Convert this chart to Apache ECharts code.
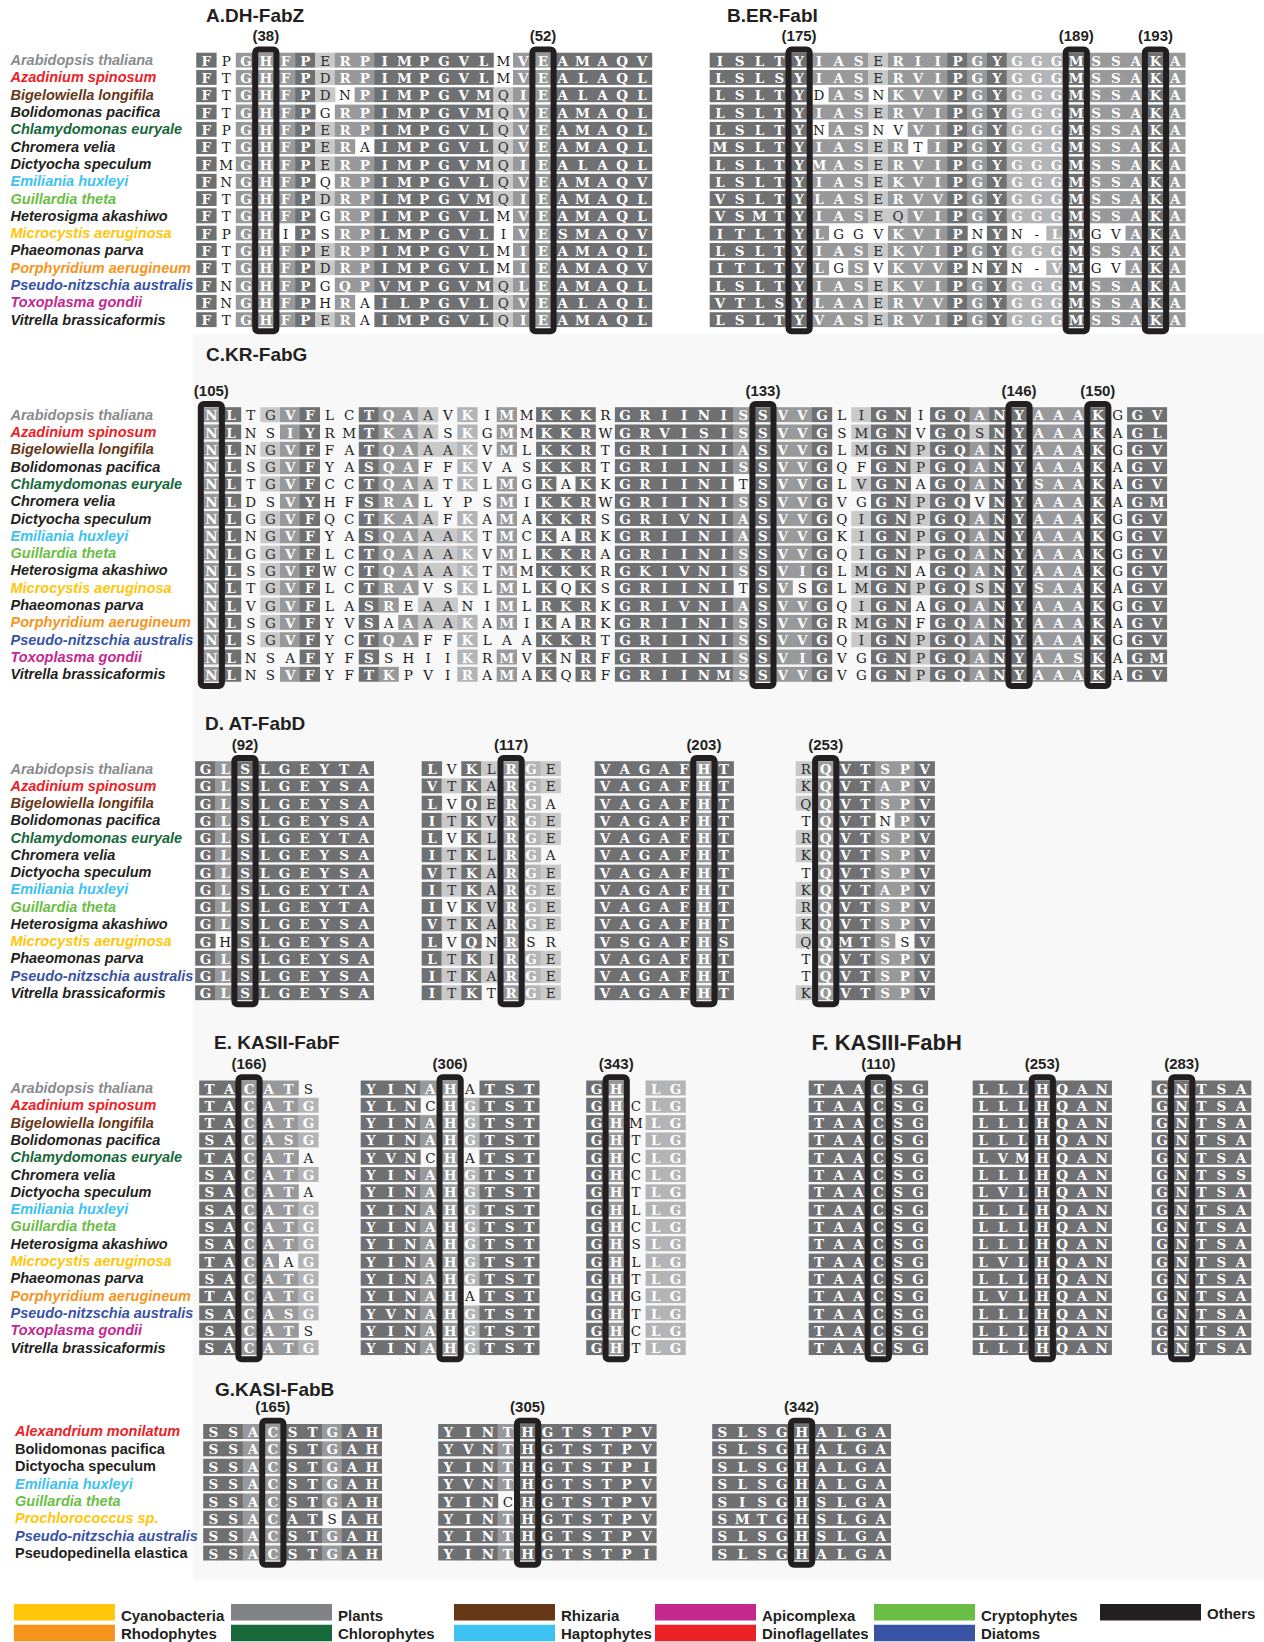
<!DOCTYPE html>
<html>
<head>
<meta charset="utf-8">
<title>Conserved active sites of FAS II enzymes</title>
<script src="https://cdn.jsdelivr.net/npm/echarts@6/dist/echarts.min.js"></script>
<style>
  html, body { margin: 0; padding: 0; background: #ffffff; }
  #chart { width: 1264px; height: 1642px; }
</style>
</head>
<body>
<div id="chart"></div>
<script>
// ---------- taxonomy ----------
const taxonColors = {
  Cyanobacteria: '#FFC60B', Rhodophytes: '#F7941D', Plants: '#808285', Chlorophytes: '#17693A',
  Rhizaria: '#663818', Haptophytes: '#3DC2F1', Apicomplexa: '#C4288F', Dinoflagellates: '#EC2227',
  Cryptophytes: '#6BBE45', Diatoms: '#3853A4', Others: '#231F20'
};
const legendRow1 = ['Cyanobacteria', 'Plants', 'Rhizaria', 'Apicomplexa', 'Cryptophytes', 'Others'];
const legendRow2 = ['Rhodophytes', 'Chlorophytes', 'Haptophytes', 'Dinoflagellates', 'Diatoms'];

const speciesTaxon = {
  'Arabidopsis thaliana': 'Plants', 'Azadinium spinosum': 'Dinoflagellates',
  'Bigelowiella longifila': 'Rhizaria', 'Bolidomonas pacifica': 'Others',
  'Chlamydomonas euryale': 'Chlorophytes', 'Chromera velia': 'Others',
  'Dictyocha speculum': 'Others', 'Emiliania huxleyi': 'Haptophytes',
  'Guillardia theta': 'Cryptophytes', 'Heterosigma akashiwo': 'Others',
  'Microcystis aeruginosa': 'Cyanobacteria', 'Phaeomonas parva': 'Others',
  'Porphyridium aerugineum': 'Rhodophytes', 'Pseudo-nitzschia australis': 'Diatoms',
  'Toxoplasma gondii': 'Apicomplexa', 'Vitrella brassicaformis': 'Others',
  'Alexandrium monilatum': 'Dinoflagellates', 'Prochlorococcus sp.': 'Cyanobacteria',
  'Pseudopedinella elastica': 'Others'
};

const species16 = ['Arabidopsis thaliana', 'Azadinium spinosum', 'Bigelowiella longifila', 'Bolidomonas pacifica',
  'Chlamydomonas euryale', 'Chromera velia', 'Dictyocha speculum', 'Emiliania huxleyi', 'Guillardia theta',
  'Heterosigma akashiwo', 'Microcystis aeruginosa', 'Phaeomonas parva', 'Porphyridium aerugineum',
  'Pseudo-nitzschia australis', 'Toxoplasma gondii', 'Vitrella brassicaformis'];
const speciesFabD = ['Arabidopsis thaliana', 'Azadinium spinosum', 'Bigelowiella longifila', 'Bolidomonas pacifica',
  'Chlamydomonas euryale', 'Chromera velia', 'Dictyocha speculum', 'Emiliania huxleyi', 'Guillardia theta',
  'Heterosigma akashiwo', 'Microcystis aeruginosa', 'Phaeomonas parva', 'Pseudo-nitzschia australis',
  'Vitrella brassicaformis'];
const speciesFabB = ['Alexandrium monilatum', 'Bolidomonas pacifica', 'Dictyocha speculum', 'Emiliania huxleyi',
  'Guillardia theta', 'Prochlorococcus sp.', 'Pseudo-nitzschia australis', 'Pseudopedinella elastica'];
const uprightFabB = ['Bolidomonas pacifica', 'Dictyocha speculum', 'Pseudopedinella elastica'];

// ---------- alignments (residues) and conservation shading ----------
// shade codes: 0 none, 1 light (dark letter), 4 light-medium, 2 medium, 3 dark (white letters)
// A. DH-FabZ
const fabZSeq = ['FPGHFPERPIMPGVLMVEAMAQV', 'FTGHFPDRPIMPGVLMVEALAQL', 'FTGHFPDNPIMPGVMQIEALAQL',
  'FTGHFPGRPIMPGVMQVEAMAQL', 'FPGHFPERPIMPGVLQVEAMAQL', 'FTGHFPERAIMPGVLQVEAMAQL', 'FMGHFPERPIMPGVMQIEALAQL',
  'FNGHFPQRPIMPGVLQVEAMAQV', 'FTGHFPDRPIMPGVMQIEAMAQL', 'FTGHFPGRPIMPGVLMVEAMAQL', 'FPGHIPSRPLMPGVLIVESMAQV',
  'FTGHFPERPIMPGVLMIEAMAQL', 'FTGHFPDRPIMPGVLMIEAMAQV', 'FNGHFPGQPVMPGVMQLEAMAQL', 'FNGHFPHRAILPGVLQVEALAQL',
  'FTGHFPERAIMPGVLQIEAMAQL'];
const fabZShade = ['30222312233333302233333', '30222312233333302233333', '30222310233333312233333',
  '30222302233333312233333', '30222312233333312233333', '30222312033333312233333', '30222312233333312233333',
  '30222302233333312233333', '30222312233333312233333', '30222302233333302233333', '30220302233333302233333',
  '30222312233333302233333', '30222312233333302233333', '30222302233333312233333', '30222302033333312233333',
  '30222312033333312233333'];
const fabZSites = [{ col: 3, label: '(38)' }, { col: 17, label: '(52)' }];

// B. ER-FabI
const fabISeq = ['ISLTYIASERIIPGYGGGMSSAKA', 'LSLSYIASERVIPGYGGGMSSAKA', 'LSLTYDASNKVVPGYGGGMSSAKA',
  'LSLTYIASERVIPGYGGGMSSAKA', 'LSLTYNASNVVIPGYGGGMSSAKA', 'MSLTYIASERTIPGYGGGMSSAKA', 'LSLTYMASERVIPGYGGGMSSAKA',
  'LSLTYIASEKVIPGYGGGMSSAKA', 'VSLTYLASERVVPGYGGGMSSAKA', 'VSMTYIASEQVIPGYGGGMSSAKA', 'ITLTYLGGVKVIPNYN-LMGVAKA',
  'LSLTYIASEKVIPGYGGGMSSAKA', 'ITLTYLGSVKVVPNYN-VMGVAKA', 'LSLTYIASEKVIPGYGGGMSSAKA', 'VTLSYLAAERVVPGYGGGMSSAKA',
  'LSLTYVASERVIPGYGGGMSSAKA'];
const fabIShade = ['333332221222323444322232', '333332221222323444322232', '333330220222323444322232',
  '333332221222323444322232', '333330220022323444322232', '333332221202323444322232', '333332221222323444322232',
  '333332221222323444322232', '333332221222323444322232', '333332221122323444322232', '333332000222303004300232',
  '333332221222323444322232', '333332020222303004300232', '333332221222323444322232', '333332221222323444322232',
  '333332221222323444322232'];
const fabISites = [{ col: 4, label: '(175)' }, { col: 18, label: '(189)' }, { col: 22, label: '(193)' }];

// C. KR-FabG
const fabGSeq = [
  'NLTGVFLCTQAAVKIMMKKKRGRIINISSVVGLIGNIGQANYAAAKGGV', 'NLNSIYRMTKAASKGMMKKRWGRVISISSVVGSMGNVGQSNYAAAKAGL',
  'NLNGVFFATQAAAKVMLKKRTGRIINIASVVGLMGNPGQANYAAAKGGV', 'NLSGVFYASQAFFKVASKKRTGRIINISSVVGQFGNPGQANYAAAKAGV',
  'NLTGVFCCTQAATKLMGKAKKGRIINITSVVGLVGNAGQANYSAAKAGV', 'NLDSVYHFSRALYPSMIKKRWGRIINISSVVGVGGNPGQVNYAAAKAGM',
  'NLGGVFQCTKAAFKAMAKKRSGRIVNIASVVGQIGNPGQANYAAAKGGV', 'NLNGVFYASQAAAKTMCKARKGRIINIASVVGKIGNPGQANYAAAKGGV',
  'NLGGVFLCTQAAAKVMLKKRAGRIINISSVVGQIGNPGQANYAAAKGGV', 'NLSGVFWCTQAAAKTMMKKKRGKIVNISSVIGLMGNAGQANYAAAKGGV',
  'NLTGVFLCTRAVSKLMLKQKSGRIINITSVSGLMGNPGQSNYSAAKAGV', 'NLVGVFLASREAANIMLRKRKGRIVNIASVVGQIGNAGQANYAAAKGGV',
  'NLSGVFYVSAAAAKAMIKARKGRIINISSVVGRMGNFGQANYAAAKAGV', 'NLSGVFYCTQAFFKLAAKKRTGRIINISSVVGQIGNPGQANYAAAKGGV',
  'NLNSAFYFSSHIIKRMVKNRFGRIINISSVIGVGGNPGQANYAASKAGM', 'NLNSVFYFTKPVIRAMAKQRFGRIINMSSVVGVGGNPGQANYAAAKAGV'];
const fabGShade = [
  '2301230032210402033303333332322301330332332223033', '2300230032210402033303333332322301330331332223033',
  '2301230032211402033303333332322301331332332223033', '2301230032200400033303333332322300331332332223033',
  '2301230032210402030303333330322301330332332223033', '2300230032200002033303333332322300331330332223033',
  '2301230032210402033303333332322301331332332223033', '2301230032211402030303333332322301331332332223033',
  '2301230032211402033303333332322301331332332223033', '2301230032211402033303333332322301330332332223033',
  '2301230032200402030303333330320301331331332223033', '2301230032011002033303333332322301330332332223033',
  '2301230030211402030303333332322301330332332223033', '2301230032200400033303333332322301331332332223033',
  '2300030030000402030303333332322300331332332223033', '2300230032000402030303333332322300331332332223033'];
const fabGSites = [{ col: 0, label: '(105)' }, { col: 28, label: '(133)' }, { col: 41, label: '(146)' }, { col: 45, label: '(150)' }];

// D. AT-FabD (four segments)
const fabD1Seq = ['GLSLGEYTA', 'GLSLGEYSA', 'GLSLGEYSA', 'GLSLGEYSA', 'GLSLGEYTA', 'GLSLGEYSA', 'GLSLGEYSA',
  'GLSLGEYTA', 'GLSLGEYTA', 'GLSLGEYSA', 'GHSLGEYSA', 'GLSLGEYSA', 'GLSLGEYSA', 'GLSLGEYSA'];
const fabD1Shade = ['323333333', '323333333', '323333333', '323333333', '323333333', '323333333', '323333333',
  '323333333', '323333333', '323333333', '303333333', '323333333', '323333333', '323333333'];
const fabD1Sites = [{ col: 2, label: '(92)' }];
const fabD2Seq = ['LVKLRGE', 'VTKARGE', 'LVQERGA', 'ITKVRGE', 'LVKLRGE', 'ITKLRGA', 'VTKARGE',
  'ITKARGE', 'IVKVRGE', 'VTKARGE', 'LVQNRSR', 'LTKIRGE', 'ITKARGE', 'ITKTRGE'];
const fabD2Shade = ['3031241', '3131241', '3031240', '3131241', '3031241', '3131240', '3131241',
  '3131241', '3031241', '3131241', '3030200', '3131241', '3131241', '3130241'];
const fabD2Sites = [{ col: 4, label: '(117)' }];
const fabD3Seq = ['VAGAFHT', 'VAGAFHT', 'VAGAFHT', 'VAGAFHT', 'VAGAFHT', 'VAGAFHT', 'VAGAFHT',
  'VAGAFHT', 'VAGAFHT', 'VAGAFHT', 'VSGAFHS', 'VAGAFHT', 'VAGAFHT', 'VAGAFHT'];
const fabD3Shade = ['3333323', '3333323', '3333323', '3333323', '3333323', '3333323', '3333323',
  '3333323', '3333323', '3333323', '3333323', '3333323', '3333323', '3333323'];
const fabD3Sites = [{ col: 5, label: '(203)' }];
const fabD4Seq = ['RQVTSPV', 'KQVTAPV', 'QQVTSPV', 'TQVTNPV', 'RQVTSPV', 'KQVTSPV', 'TQVTSPV',
  'KQVTAPV', 'RQVTSPV', 'KQVTSPV', 'QQMTSSV', 'TQVTSPV', 'TQVTSPV', 'KQVTSPV'];
const fabD4Shade = ['1233223', '1233223', '1233223', '0233023', '1233223', '1233223', '0233223',
  '1233223', '1233223', '1233223', '1233203', '0233223', '0233223', '1233223'];
const fabD4Sites = [{ col: 1, label: '(253)' }];

// E. KASII-FabF (three segments)
const fabF1Seq = ['TACATS', 'TACATG', 'TACATG', 'SACASG', 'TACATA', 'SACATG', 'SACATA', 'SACATG',
  'SACATG', 'SACATG', 'TACAAG', 'SACATG', 'TACATG', 'SACASG', 'SACATS', 'SACATG'];
const fabF1Shade = ['332220', '332224', '332224', '332224', '332220', '332224', '332220', '332224',
  '332224', '332224', '332204', '332224', '332224', '332224', '332220', '332224'];
const fabF1Sites = [{ col: 2, label: '(166)' }];
const fabF2Seq = ['YINAHATST', 'YLNCHGTST', 'YINAHGTST', 'YINAHGTST', 'YVNCHATST', 'YINAHGTST', 'YINAHGTST',
  'YINAHGTST', 'YINAHGTST', 'YINAHGTST', 'YINAHGTST', 'YINAHGTST', 'YINAHATST', 'YVNAHGTST', 'YINAHGTST', 'YINAHGTST'];
const fabF2Shade = ['333220333', '333024333', '333224333', '333224333', '333020333', '333224333', '333224333',
  '333224333', '333224333', '333224333', '333224333', '333224333', '333220333', '333224333', '333224333', '333224333'];
const fabF2Sites = [{ col: 4, label: '(306)' }];
const fabF3Seq = ['GH LG', 'GHCLG', 'GHMLG', 'GHTLG', 'GHCLG', 'GHCLG', 'GHTLG', 'GHLLG',
  'GHCLG', 'GHSLG', 'GHLLG', 'GHTLG', 'GHGLG', 'GHTLG', 'GHCLG', 'GHTLG'];
const fabF3Shade = ['32044', '32044', '32044', '32044', '32044', '32044', '32044', '32044',
  '32044', '32044', '32044', '32044', '32044', '32044', '32044', '32044'];
const fabF3Sites = [{ col: 1, label: '(343)' }];

// F. KASIII-FabH (three segments)
const fabH1Seq = ['TAACSG', 'TAACSG', 'TAACSG', 'TAACSG', 'TAACSG', 'TAACSG', 'TAACSG', 'TAACSG',
  'TAACSG', 'TAACSG', 'TAACSG', 'TAACSG', 'TAACSG', 'TAACSG', 'TAACSG', 'TAACSG'];
const fabH1Shade = ['333333', '333333', '333333', '333333', '333333', '333333', '333333', '333333',
  '333333', '333333', '333333', '333333', '333333', '333333', '333333', '333333'];
const fabH1Sites = [{ col: 3, label: '(110)' }];
const fabH2Seq = ['LLLHQAN', 'LLLHQAN', 'LLLHQAN', 'LLLHQAN', 'LVMHQAN', 'LLLHQAN', 'LVLHQAN', 'LLLHQAN',
  'LLLHQAN', 'LLLHQAN', 'LVLHQAN', 'LLLHQAN', 'LVLHQAN', 'LLLHQAN', 'LLLHQAN', 'LLLHQAN'];
const fabH2Shade = ['3333333', '3333333', '3333333', '3333333', '3333333', '3333333', '3333333', '3333333',
  '3333333', '3333333', '3333333', '3333333', '3333333', '3333333', '3333333', '3333333'];
const fabH2Sites = [{ col: 3, label: '(253)' }];
const fabH3Seq = ['GNTSA', 'GNTSA', 'GNTSA', 'GNTSA', 'GNTSA', 'GNTSS', 'GNTSA', 'GNTSA',
  'GNTSA', 'GNTSA', 'GNTSA', 'GNTSA', 'GNTSA', 'GNTSA', 'GNTSA', 'GNTSA'];
const fabH3Shade = ['33333', '33333', '33333', '33333', '33333', '33333', '33333', '33333',
  '33333', '33333', '33333', '33333', '33333', '33333', '33333', '33333'];
const fabH3Sites = [{ col: 1, label: '(283)' }];

// G. KASI-FabB (three segments)
const fabB1Seq = ['SSACSTGAH', 'SSACSTGAH', 'SSACSTGAH', 'SSACSTGAH', 'SSACSTGAH', 'SSACATSAH', 'SSACSTGAH', 'SSACSTGAH'];
const fabB1Shade = ['332233233', '332233233', '332233233', '332233233', '332233233', '332233033', '332233233', '332233233'];
const fabB1Sites = [{ col: 3, label: '(165)' }];
const fabB2Seq = ['YINTHGTSTPV', 'YVNTHGTSTPV', 'YINTHGTSTPI', 'YVNTHGTSTPV', 'YINCHGTSTPV', 'YINTHGTSTPV', 'YINTHGTSTPV', 'YINTHGTSTPI'];
const fabB2Shade = ['33323333333', '33323333333', '33323333333', '33323333333', '33303333333', '33323333333', '33323333333', '33323333333'];
const fabB2Sites = [{ col: 4, label: '(305)' }];
const fabB3Seq = ['SLSGHALGA', 'SLSGHALGA', 'SLSGHALGA', 'SLSGHALGA', 'SISGHSLGA', 'SMTGHSLGA', 'SLSGHSLGA', 'SLSGHALGA'];
const fabB3Shade = ['333333333', '333333333', '333333333', '333333333', '333333333', '333333333', '333333333', '333333333'];
const fabB3Sites = [{ col: 4, label: '(342)' }];

// ---------- page layout ----------
const panels = [
  { title: 'A.DH-FabZ', tx: 206, ty: 15, tsize: 19, species: species16, labelX: 10.5, top: 51.5, band: 17.3, colW: 19.8,
    blocks: [{ left: 196.5, seq: fabZSeq, shade: fabZShade, sites: fabZSites }] },
  { title: 'B.ER-FabI', tx: 727, ty: 15, tsize: 19, species: species16, labelX: null, top: 51.5, band: 17.3, colW: 19.8,
    blocks: [{ left: 710, seq: fabISeq, shade: fabIShade, sites: fabISites }] },
  { title: 'C.KR-FabG', tx: 206, ty: 354, tsize: 19, species: species16, labelX: 10.5, top: 406, band: 17.31, colW: 19.7,
    blocks: [{ left: 201.5, seq: fabGSeq, shade: fabGShade, sites: fabGSites }] },
  { title: 'D. AT-FabD', tx: 205, ty: 723, tsize: 19, species: speciesFabD, labelX: 10.5, top: 760, band: 17.24, colW: 19.8,
    blocks: [
      { left: 195.5, seq: fabD1Seq, shade: fabD1Shade, sites: fabD1Sites },
      { left: 422, seq: fabD2Seq, shade: fabD2Shade, sites: fabD2Sites },
      { left: 595, seq: fabD3Seq, shade: fabD3Shade, sites: fabD3Sites },
      { left: 796, seq: fabD4Seq, shade: fabD4Shade, sites: fabD4Sites }] },
  { title: 'E. KASII-FabF', tx: 214, ty: 1042, tsize: 19, species: species16, labelX: 10.5, top: 1079.3, band: 17.31, colW: 19.8,
    blocks: [
      { left: 199.5, seq: fabF1Seq, shade: fabF1Shade, sites: fabF1Sites },
      { left: 361, seq: fabF2Seq, shade: fabF2Shade, sites: fabF2Sites },
      { left: 586.5, seq: fabF3Seq, shade: fabF3Shade, sites: fabF3Sites }] },
  { title: 'F. KASIII-FabH', tx: 811.5, ty: 1042, tsize: 22, species: species16, labelX: null, top: 1079.3, band: 17.31, colW: 19.8,
    blocks: [
      { left: 809, seq: fabH1Seq, shade: fabH1Shade, sites: fabH1Sites },
      { left: 973, seq: fabH2Seq, shade: fabH2Shade, sites: fabH2Sites },
      { left: 1152, seq: fabH3Seq, shade: fabH3Shade, sites: fabH3Sites }] },
  { title: 'G.KASI-FabB', tx: 215, ty: 1389, tsize: 19, species: speciesFabB, labelX: 15, top: 1422.8, band: 17.36, colW: 19.8,
    upright: uprightFabB,
    blocks: [
      { left: 203.5, seq: fabB1Seq, shade: fabB1Shade, sites: fabB1Sites },
      { left: 438.5, seq: fabB2Seq, shade: fabB2Shade, sites: fabB2Sites },
      { left: 712.5, seq: fabB3Seq, shade: fabB3Shade, sites: fabB3Sites }] }
];

// ---------- styles ----------
const shadeFill = ['none', '#c9c9c9', '#98999b', '#6f7072', '#b3b4b6'];
const shadeInk = ['#1b1b1b', '#2b2b2b', '#ffffff', '#ffffff', '#ffffff'];
const shadeWeight = ['normal', 'normal', 'bold', 'bold', 'bold'];
const INK = '#231f20';
const SANS = '"Liberation Sans", Arial, Helvetica, sans-serif';
const RESIDUE_FONT = '"DejaVu Serif", "Liberation Serif", serif';

const speciesRich = {};
Object.keys(taxonColors).forEach(function (t) {
  const base = { color: t === 'Plants' ? '#8a8b8d' : taxonColors[t], fontWeight: 'bold', fontSize: 14.5, fontFamily: SANS };
  speciesRich[t] = Object.assign({ fontStyle: 'italic' }, base);
  speciesRich[t + 'Up'] = Object.assign({ fontStyle: 'normal' }, base);
});

function makeCellRenderer(cells) {
  return function (params, api) {
    const cell = cells[params.dataIndex];
    const pt = api.coord([api.value(0), api.value(1)]);
    const size = api.size([1, 1]);
    const w = size[0], h = size[1];
    const shade = api.value(2);
    const kids = [];
    if (shade > 0) {
      kids.push({
        type: 'rect',
        shape: { x: pt[0] - w / 2 - 0.3, y: pt[1] - h / 2 + 1.2, width: w + 0.6, height: h - 2.4 },
        style: { fill: shadeFill[shade] }
      });
    }
    kids.push({
      type: 'text',
      style: {
        text: cell.letter, x: pt[0], y: pt[1] + 0.6,
        align: 'center', verticalAlign: 'middle', textAlign: 'center', textVerticalAlign: 'middle',
        fontFamily: RESIDUE_FONT, fontWeight: shadeWeight[shade], fontSize: 13.5, fill: shadeInk[shade]
      }
    });
    return { type: 'group', children: kids };
  };
}

function makeSiteRenderer(nRows, sites) {
  return function (params, api) {
    const col = api.value(0);
    const a = api.coord([col, 0]);
    const b = api.coord([col, nRows - 1]);
    const size = api.size([1, 1]);
    const lw = 6;
    const outerTop = a[1] - size[1] / 2 - 5;
    const outerBottom = b[1] + size[1] / 2 + 6;
    const halfOuter = size[0] / 2 + 3.7;
    return {
      type: 'group',
      children: [
        {
          type: 'rect',
          shape: { x: a[0] - halfOuter + lw / 2, y: outerTop + lw / 2, width: 2 * halfOuter - lw, height: outerBottom - outerTop - lw, r: 3 },
          style: { fill: 'none', stroke: INK, lineWidth: lw }
        },
        {
          type: 'text',
          style: {
            text: sites[params.dataIndex].label, x: a[0], y: outerTop - 11,
            align: 'center', verticalAlign: 'middle', textAlign: 'center', textVerticalAlign: 'middle',
            fontFamily: SANS, fontWeight: 'bold', fontSize: 15, fill: INK
          }
        }
      ]
    };
  };
}

// ---------- option ----------
const option = {
  animation: false,
  backgroundColor: '#ffffff',
  grid: [], xAxis: [], yAxis: [], series: [],
  graphic: []
};

// faint panel backdrop behind the lower alignments
option.graphic.push({
  type: 'rect', z: -10, silent: true,
  shape: { x: 193, y: 334, width: 1071, height: 1246 },
  style: { fill: '#f8f8f8' }
});

let gridIndex = 0;
panels.forEach(function (p) {
  option.graphic.push({
    type: 'text', z: 10, silent: true,
    style: {
      text: p.title, x: p.tx, y: p.ty,
      align: 'left', verticalAlign: 'middle', textAlign: 'left', textVerticalAlign: 'middle',
      fontFamily: SANS, fontWeight: 'bold', fontSize: p.tsize, fill: INK
    }
  });
  const upright = p.upright || [];
  p.blocks.forEach(function (b, bi) {
    const nCols = b.seq[0].length;
    const nRows = b.seq.length;
    option.grid.push({ left: b.left, top: p.top, width: nCols * p.colW, height: nRows * p.band, containLabel: false });
    option.xAxis.push({
      type: 'category', gridIndex: gridIndex, show: false,
      data: Array.from({ length: nCols }, function (_, i) { return String(i + 1); })
    });
    const showLabels = bi === 0 && p.labelX !== null;
    option.yAxis.push({
      type: 'category', gridIndex: gridIndex, inverse: true, data: p.species,
      axisLine: { show: false }, axisTick: { show: false }, splitLine: { show: false },
      axisLabel: {
        show: showLabels, interval: 0, align: 'left',
        margin: showLabels ? b.left - p.labelX : 8,
        formatter: function (name) {
          const t = speciesTaxon[name];
          const key = upright.indexOf(name) >= 0 ? t + 'Up' : t;
          return '{' + key + '|' + name + '}';
        },
        rich: speciesRich
      }
    });
    const cells = [];
    b.seq.forEach(function (row, r) {
      for (let c = 0; c < nCols; c++) {
        cells.push({ value: [c, r, Number(b.shade[r][c])], letter: row[c] });
      }
    });
    option.series.push({
      type: 'custom', xAxisIndex: gridIndex, yAxisIndex: gridIndex, silent: true, clip: false, z: 2,
      data: cells, renderItem: makeCellRenderer(cells)
    });
    option.series.push({
      type: 'custom', xAxisIndex: gridIndex, yAxisIndex: gridIndex, silent: true, clip: false, z: 5,
      data: b.sites.map(function (s) { return { value: [s.col, 0] }; }),
      renderItem: makeSiteRenderer(nRows, b.sites)
    });
    gridIndex++;
  });
});

// ---------- taxon colour key ----------
const keyX = [13.9, 231, 454, 655, 874, 1100];
function addKey(names, y, textY) {
  names.forEach(function (name, i) {
    option.graphic.push({
      type: 'rect', z: 10, silent: true,
      shape: { x: keyX[i], y: y, width: 101, height: 16.5 },
      style: { fill: taxonColors[name] }
    });
    option.graphic.push({
      type: 'text', z: 10, silent: true,
      style: {
        text: name, x: keyX[i] + 107, y: name === 'Others' ? textY - 2.5 : textY,
        align: 'left', verticalAlign: 'middle', textAlign: 'left', textVerticalAlign: 'middle',
        fontFamily: SANS, fontWeight: 'bold', fontSize: 15, fill: INK
      }
    });
  });
}
addKey(legendRow1, 1604, 1615.5);
addKey(legendRow2, 1624.8, 1633.5);

const chart = echarts.init(document.getElementById('chart'), null, { renderer: 'svg', width: 1264, height: 1642 });
chart.setOption(option);
</script>
</body>
</html>
